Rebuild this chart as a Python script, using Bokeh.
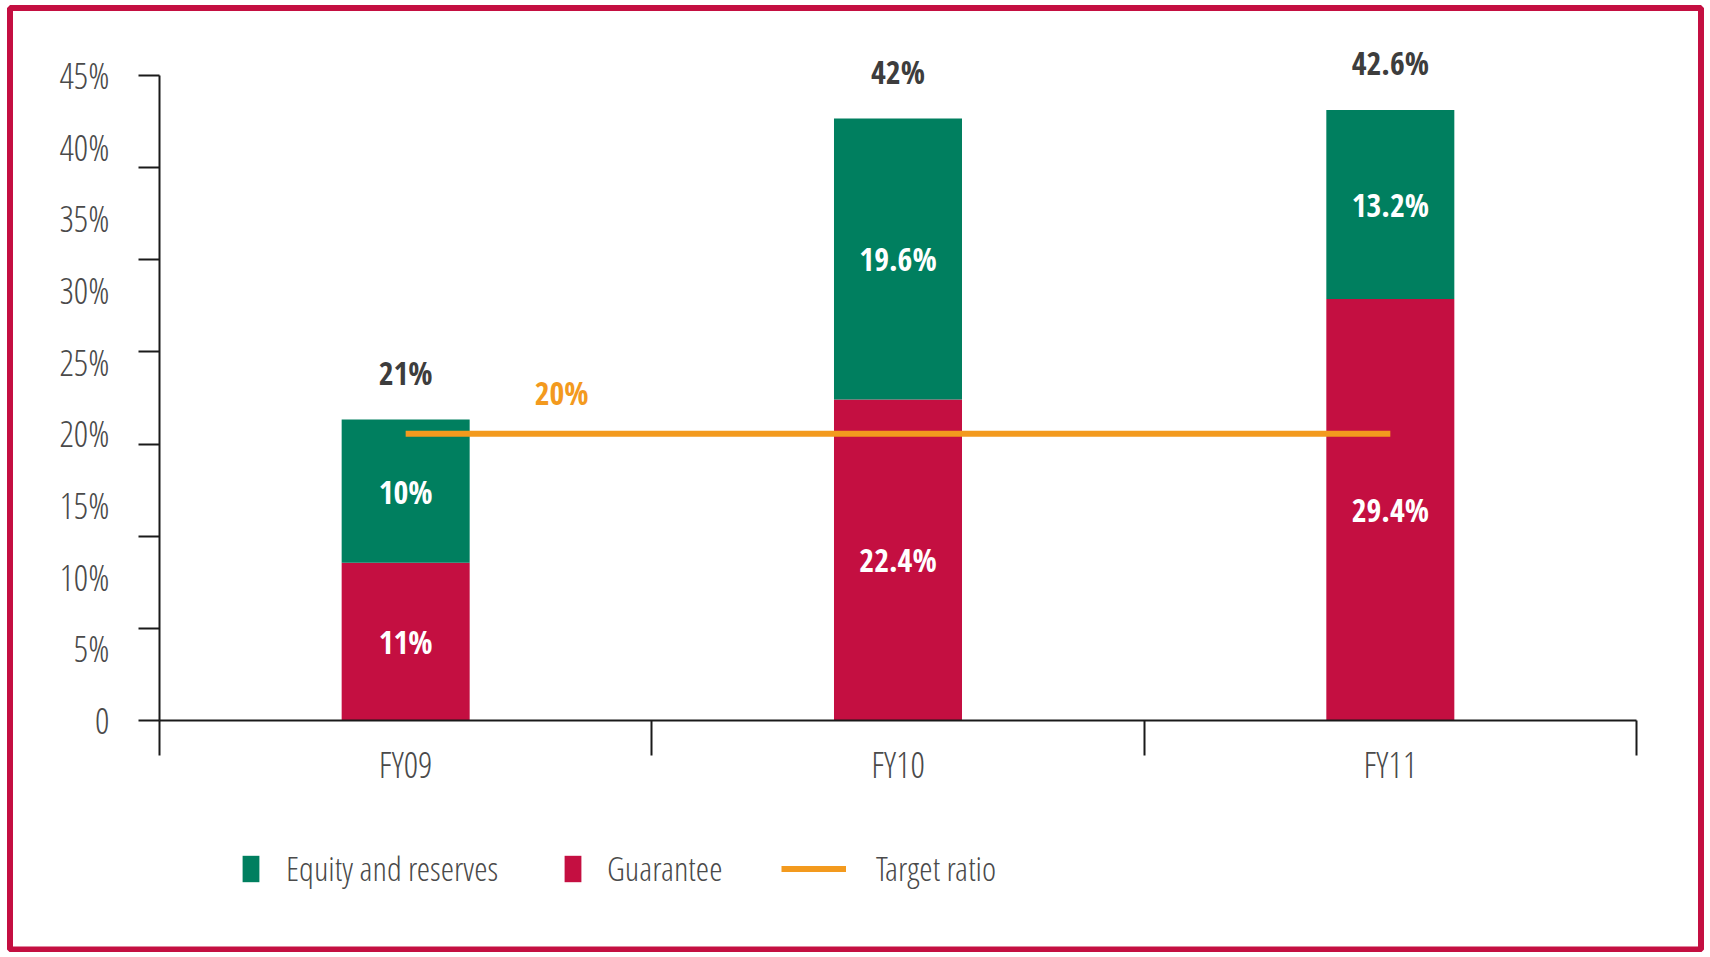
import numpy as np
from bokeh.plotting import figure
from bokeh.models import (ColumnDataSource, FixedTicker, LabelSet, Label, Legend,
                          LegendItem, BoxAnnotation, Range1d, LinearAxis)
from bokeh.core.properties import value
from bokeh.embed import file_html
from bokeh.resources import INLINE

# ---------------- data ----------------
categories = ["FY09", "FY10", "FY11"]
guarantee = [11.0, 22.4, 29.4]
equity = [10.0, 19.6, 13.2]
total_labels = ["21%", "42%", "42.6%"]
guarantee_labels = ["11%", "22.4%", "29.4%"]
equity_labels = ["10%", "19.6%", "13.2%"]
target_ratio = 20.0
target_label = "20%"
y_ticks = [0, 5, 10, 15, 20, 25, 30, 35, 40, 45]
y_tick_labels = ["0", "5%", "10%", "15%", "20%", "25%", "30%", "35%", "40%", "45%"]

# ---------------- style ----------------
FONT = "Open Sans Condensed"
FONT_LIGHT = "Open Sans Condensed Light"
GREEN = "#007F5F"
RED = "#C40F41"
ORANGE = "#F39A1E"
AXIS = "#1a1a1a"
TXT = "#4a4a4a"

W, H = 1704, 952
# pixel layout of the plotting area (frame fills the canvas)
X0_PX, X_UNIT = 159.0, 492.33     # x=0 at px 159, px per category
Y0_PX, Y_UNIT = 720.0, 14.3333    # y=0 at px 720, px per percent point

g = np.array(guarantee)
e = np.array(equity)
xs = np.arange(len(categories)) + 0.5
src = ColumnDataSource(dict(
    x=xs, guarantee=g, total=g + e,
    g_mid=g / 2, e_mid=g + e / 2,
    g_lab=guarantee_labels, e_lab=equity_labels, t_lab=total_labels,
))

p = figure(width=W, height=H,
           x_range=Range1d(-X0_PX / X_UNIT, (W - X0_PX) / X_UNIT),
           y_range=Range1d(-(H - Y0_PX) / Y_UNIT, Y0_PX / Y_UNIT),
           output_backend="svg", toolbar_location=None,
           x_axis_location=None, y_axis_location=None, min_border=0)
p.grid.visible = False
p.outline_line_color = None
p.background_fill_color = "white"
p.border_fill_color = "white"

BW = 0.26
r_g = p.vbar(x="x", bottom=0, top="guarantee", width=BW, source=src,
             fill_color=RED, line_color=None)
r_e = p.vbar(x="x", bottom="guarantee", top="total", width=BW, source=src,
             fill_color=GREEN, line_color=None)

r_t = p.line(x=[xs[0], xs[-1]], y=[target_ratio, target_ratio],
             line_color=ORANGE, line_width=6)

p.text(x="x", y="g_mid", text="g_lab", source=src, text_color="white",
       text_font=value(FONT), text_font_size="32px", text_font_style="bold",
       text_align="center", text_baseline="middle")
p.text(x="x", y="e_mid", text="e_lab", source=src, text_color="white",
       text_font=value(FONT), text_font_size="32px", text_font_style="bold",
       text_align="center", text_baseline="middle")

p.add_layout(LabelSet(x="x", y="total", text="t_lab", source=src, y_offset=47,
                      text_color="#3d3d3d", text_font=value(FONT), text_font_size="32px",
                      text_font_style="bold", text_align="center", text_baseline="middle"))

p.add_layout(Label(x=xs[0], y=target_ratio, x_offset=156, y_offset=41, text=target_label,
                   text_color=ORANGE, text_font=FONT, text_font_size="32px",
                   text_font_style="bold", text_align="center", text_baseline="middle"))

# ---------------- axes ----------------
ya = LinearAxis(fixed_location=0, bounds=(0, 45),
                ticker=FixedTicker(ticks=y_ticks, minor_ticks=[45 * k / 7 for k in range(8)]))
ya.major_label_overrides = {t: l for t, l in zip(y_ticks, y_tick_labels)}
ya.major_tick_out = 0
ya.major_tick_in = 0
ya.minor_tick_out = 21
ya.minor_tick_in = 0
ya.minor_tick_line_width = 2
ya.minor_tick_line_color = AXIS
ya.axis_line_width = 2
ya.axis_line_color = AXIS
ya.major_label_standoff = 29
ya.major_label_text_font = FONT_LIGHT
ya.major_label_text_font_size = "36px"
ya.major_label_text_color = TXT
p.add_layout(ya, "left")

xa = LinearAxis(fixed_location=0, bounds=(0, len(categories)),
                ticker=FixedTicker(ticks=list(xs), minor_ticks=list(range(len(categories) + 1))))
xa.major_label_overrides = {float(x): c for x, c in zip(xs, categories)}
xa.major_tick_out = 0
xa.major_tick_in = 0
xa.minor_tick_out = 35
xa.minor_tick_in = 0
xa.minor_tick_line_width = 2
xa.minor_tick_line_color = AXIS
xa.axis_line_width = 2
xa.axis_line_color = AXIS
xa.major_label_standoff = -16
xa.major_label_text_font = FONT_LIGHT
xa.major_label_text_font_size = "36px"
xa.major_label_text_color = TXT
p.add_layout(xa, "below")

# ---------------- legends ----------------
def make_legend(label, rend, x, gw, standoff):
    return Legend(items=[LegendItem(label=label, renderers=[rend])], location=(x, 61),
                  orientation="horizontal", glyph_width=gw, glyph_height=33,
                  label_standoff=standoff, padding=0, margin=0, spacing=0,
                  border_line_color=None, background_fill_alpha=0,
                  label_text_font=FONT_LIGHT, label_text_font_size="34px",
                  label_text_color=TXT)

p.add_layout(make_legend("Equity and reserves", r_e, 240, 21, 25))
p.add_layout(make_legend("Guarantee", r_g, 562, 21, 24))
p.add_layout(make_legend("Target ratio", r_t, 781, 65, 30))

# ---------------- frame border ----------------
p.add_layout(BoxAnnotation(left=9.5, right=W - 3.5, top=7.5, bottom=H - 3,
                           left_units="canvas", right_units="canvas",
                           top_units="canvas", bottom_units="canvas",
                           fill_color=None, fill_alpha=0, line_color=RED, line_alpha=1.0,
                           line_width=6, level="overlay"))

open("out.html", "w").write(file_html(p, INLINE))
